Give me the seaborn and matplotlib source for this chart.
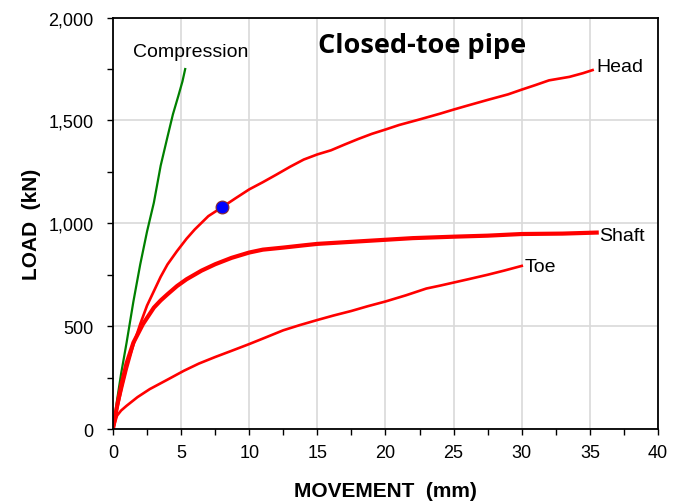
import seaborn as sns
import matplotlib.pyplot as plt
from matplotlib.ticker import MultipleLocator, FuncFormatter

# load-movement curves (mm, kN)
comp_x = [0, 0.3, 0.6, 1, 1.5, 2, 2.5, 3, 3.5, 4, 4.4, 4.8, 5.1, 5.3]
comp_y = [0, 140, 270, 420, 620, 800, 960, 1100, 1280, 1420, 1530, 1620, 1690, 1750]

head_x = [0, 0.3, 0.7, 1, 1.5, 2, 2.5, 3, 3.5, 4, 4.7, 5.4, 6, 7, 8, 9, 10, 11, 12, 13, 14, 15,
          16, 17, 18, 19, 20, 21, 22.5, 24, 25, 26, 27.5, 29, 30, 31, 32, 33.5, 34.5, 35.2]
head_y = [0, 100, 210, 290, 410, 510, 600, 670, 740, 800, 865, 925, 970, 1035, 1078, 1122, 1165,
          1200, 1237, 1275, 1310, 1335, 1355, 1383, 1410, 1435, 1456, 1478, 1505, 1533, 1553,
          1572, 1600, 1627, 1650, 1672, 1695, 1712, 1730, 1745]

shaft_x = [0, 0.3, 0.6, 1, 1.5, 2.2, 3, 3.5, 4, 4.7, 5.4, 6.5, 7.5, 8.7, 10, 11, 12.5, 14, 15,
           17.5, 20, 22, 25, 27.5, 30, 33, 35.5]
shaft_y = [0, 110, 210, 320, 420, 510, 590, 625, 655, 695, 728, 770, 801, 832, 858, 872, 882,
           893, 900, 910, 920, 928, 935, 940, 948, 950, 955]

toe_x = [0, 0.3, 0.6, 1, 1.8, 2.7, 4, 5.2, 6.3, 7.5, 8.7, 10, 11.2, 12.5, 13.7, 15, 16.2, 17.5,
         18.7, 20, 21.5, 23, 24, 25, 26.2, 27.5, 28.7, 30]
toe_y = [0, 65, 90, 113, 155, 194, 240, 283, 318, 350, 380, 413, 445, 480, 505, 530, 552, 574,
         597, 620, 650, 683, 697, 712, 730, 750, 770, 793]

point_x = [8]
point_y = [1078]

fig = plt.figure(figsize=(6.83, 5.02), dpi=100)
ax = fig.add_axes([0.1654, 0.1434, 0.7980, 0.8195])

sns.lineplot(x=comp_x, y=comp_y, sort=False, color="green", lw=1.6, ax=ax)
sns.lineplot(x=head_x, y=head_y, sort=False, color="red", lw=1.9, ax=ax)
sns.lineplot(x=shaft_x, y=shaft_y, sort=False, color="red", lw=3.0, ax=ax)
sns.lineplot(x=toe_x, y=toe_y, sort=False, color="red", lw=1.9, ax=ax)
sns.scatterplot(x=point_x, y=point_y, s=85, color="blue", edgecolor="#8b2a2a",
                linewidth=0.8, zorder=5, ax=ax)

ax.set_xlim(0, 40)
ax.set_ylim(0, 2000)
ax.xaxis.set_major_locator(MultipleLocator(5))
ax.xaxis.set_minor_locator(MultipleLocator(2.5))
ax.yaxis.set_major_locator(MultipleLocator(500))
ax.yaxis.set_minor_locator(MultipleLocator(250))
ax.yaxis.set_major_formatter(FuncFormatter(lambda v, p: f"{int(v):,}"))
ax.grid(True, which="major", color="#d9d9d9", lw=1.2)
ax.set_axisbelow(True)
for s in ax.spines.values():
    s.set_color("black")
    s.set_linewidth(1.3)
ax.tick_params(which="both", direction="out", length=4, width=1, colors="black")
ax.tick_params(axis="y", labelsize=13, pad=10)
ax.tick_params(axis="x", labelsize=13, pad=7)
for lbl in ax.get_xticklabels() + ax.get_yticklabels():
    lbl.set_family("Liberation Sans")

ax.set_xlabel("MOVEMENT  (mm)", fontsize=15, fontweight="bold", family="Liberation Sans", labelpad=14)
ax.set_ylabel("LOAD  (kN)", fontsize=15, fontweight="bold", family="Liberation Sans", labelpad=5)

ax.text(1.5, 1835, "Compression", fontsize=14, family="Liberation Sans", va="center")
ax.text(35.5, 1762, "Head", fontsize=14, family="Liberation Sans", va="center")
ax.text(35.7, 942, "Shaft", fontsize=14, family="Liberation Sans", va="center")
ax.text(30.2, 790, "Toe", fontsize=14, family="Liberation Sans", va="center")
ax.text(22.7, 1865, "Closed-toe pipe", fontsize=19.5, fontweight="bold", family="Open Sans",
        ha="center", va="center")

fig.savefig("out.png", dpi=100)
